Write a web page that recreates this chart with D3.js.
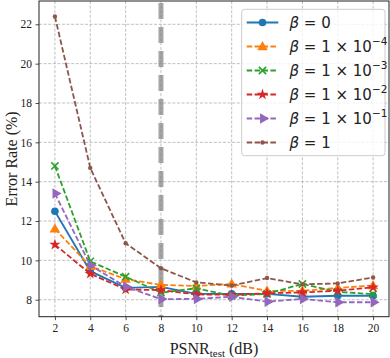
<!DOCTYPE html>
<html>
<head>
<meta charset="utf-8">
<script src="https://cdn.jsdelivr.net/npm/d3@7"></script>
<style>
  html, body { margin: 0; padding: 0; background: #fff; }
  svg { display: block; }
</style>
</head>
<body>
<svg id="chart" width="390" height="358"></svg>
<script>
// ---- data ----
const psnr = [2, 4, 6, 8, 10, 12, 14, 16, 18, 20];
const beta0     = [12.5, 9.45, 8.6, 8.65, 8.3, 8.3, 8.3, 8.15, 8.2, 8.2];
const beta1e4   = [11.6, 9.7, 9.05, 8.75, 8.7, 8.8, 8.45, 8.45, 8.6, 8.72];
const beta1e3   = [14.8, 9.95, 9.17, 8.36, 8.58, 8.2, 8.3, 8.8, 8.4, 8.28];
const beta1e2   = [10.8, 9.32, 8.52, 8.49, 8.27, 8.25, 8.33, 8.37, 8.46, 8.63];
const beta1e1   = [13.4, 9.75, 8.66, 8.03, 8.04, 8.15, 7.9, 8.04, 7.87, 7.87];
const beta1     = [22.4, 14.7, 10.87, 9.6, 8.88, 8.72, 9.1, 8.78, 8.83, 9.13];
const xTicks = [2, 4, 6, 8, 10, 12, 14, 16, 18, 20];
const yTicks = [8, 10, 12, 14, 16, 18, 20, 22];
const vlineX = 8;

const seriesNames = ["0", "1e-4", "1e-3", "1e-2", "1e-1", "1"];
const seriesValues = [beta0, beta1e4, beta1e3, beta1e2, beta1e1, beta1];
const seriesExp = [null, "−4", "−3", "−2", "−1", null];
const seriesBase = ["0", "1 × 10", "1 × 10", "1 × 10", "1 × 10", "1"];

// ---- styles ----
const colors = ["#1f77b4", "#ff7f0e", "#2ca02c", "#d62728", "#9467bd", "#8c564b"];
const dashes = [null, "5.5,2.4", "5.5,2.4", "5.5,2.4", "5.5,2.4", "5.5,2.4"];
const markers = ["circle", "triangle", "x", "star", "tright", "dot"];

const svg = d3.select("#chart");
const W = 390, H = 358;
const m = { left: 39, top: 1, right: 1, bottom: 41.3 };
const pw = W - m.left - m.right, ph = H - m.top - m.bottom;

const x = d3.scaleLinear().domain([1.1, 20.9]).range([m.left, m.left + pw]);
const y = d3.scaleLinear().domain([7.136, 23.185]).range([m.top + ph, m.top]);

const g = svg.append("g");

// grid
g.append("g").selectAll("line").data(xTicks).join("line")
  .attr("x1", d => x(d)).attr("x2", d => x(d))
  .attr("y1", m.top).attr("y2", m.top + ph)
  .attr("stroke", "#b0b0b0").attr("stroke-width", 0.8).attr("stroke-dasharray", "3,1.6");
g.append("g").selectAll("line").data(yTicks).join("line")
  .attr("y1", d => y(d)).attr("y2", d => y(d))
  .attr("x1", m.left).attr("x2", m.left + pw)
  .attr("stroke", "#b0b0b0").attr("stroke-width", 0.8).attr("stroke-dasharray", "3,1.6");

// vertical line
g.append("line")
  .attr("x1", x(vlineX)).attr("x2", x(vlineX))
  .attr("y1", m.top).attr("y2", m.top + ph)
  .attr("stroke", "#808080").attr("stroke-opacity", 0.7)
  .attr("stroke-width", 5).attr("stroke-dasharray", "16,8").attr("stroke-dashoffset", -2);

function drawMarker(sel, type, color, cx, cy, scale) {
  scale = scale || 1;
  if (type === "circle") {
    sel.append("circle").attr("cx", cx).attr("cy", cy).attr("r", 3.8 * scale).attr("fill", color);
  } else if (type === "dot") {
    sel.append("circle").attr("cx", cx).attr("cy", cy).attr("r", 2.2 * scale).attr("fill", color);
  } else if (type === "triangle") {
    sel.append("path").attr("d", d3.symbol(d3.symbolTriangle, 48 * scale * scale)())
      .attr("transform", `translate(${cx},${cy + 0.6})`).attr("fill", color);
  } else if (type === "tright") {
    sel.append("path").attr("d", d3.symbol(d3.symbolTriangle, 48 * scale * scale)())
      .attr("transform", `translate(${cx + 0.6},${cy}) rotate(90)`).attr("fill", color);
  } else if (type === "star") {
    sel.append("path").attr("d", d3.symbol(d3.symbolStar, 40 * scale * scale)())
      .attr("transform", `translate(${cx},${cy})`).attr("fill", color);
  } else if (type === "x") {
    const r = 3.6 * scale;
    sel.append("path").attr("d", `M${cx - r},${cy - r}L${cx + r},${cy + r}M${cx - r},${cy + r}L${cx + r},${cy - r}`)
      .attr("stroke", color).attr("stroke-width", 1.6).attr("fill", "none");
  }
}

// series
const line = d3.line().x((d, i) => x(psnr[i])).y(d => y(d));
seriesValues.forEach((vals, si) => {
  const sg = g.append("g");
  sg.append("path").datum(vals).attr("d", line)
    .attr("fill", "none").attr("stroke", colors[si]).attr("stroke-width", 1.8)
    .attr("stroke-dasharray", dashes[si]);
  vals.forEach((v, i) => drawMarker(sg, markers[si], colors[si], x(psnr[i]), y(v)));
});

// spines
g.append("rect").attr("x", m.left).attr("y", m.top).attr("width", pw).attr("height", ph)
  .attr("fill", "none").attr("stroke", "#222").attr("stroke-width", 1);

// axes
const xAxis = d3.axisBottom(x).tickValues(xTicks).tickSize(3.5).tickPadding(3.5).tickFormat(d3.format("d"));
const yAxis = d3.axisLeft(y).tickValues(yTicks).tickSize(3.5).tickPadding(3.5).tickFormat(d3.format("d"));
const gx = svg.append("g").attr("transform", `translate(0,${m.top + ph})`).call(xAxis);
const gy = svg.append("g").attr("transform", `translate(${m.left},0)`).call(yAxis);
[gx, gy].forEach(a => {
  a.select(".domain").remove();
  a.selectAll("line").attr("stroke", "#222").attr("stroke-width", 0.8);
  a.selectAll("text").attr("font-family", "'Liberation Serif', 'Times New Roman', serif")
    .attr("font-size", 11.5).attr("fill", "#222");
});

// axis labels
const xl = svg.append("text").attr("x", m.left + pw / 2).attr("y", 354)
  .attr("text-anchor", "middle").attr("font-family", "'Liberation Serif', serif")
  .attr("font-size", 16).attr("fill", "#222");
xl.append("tspan").text("PSNR");
xl.append("tspan").attr("font-size", 11).attr("dy", 3).text("test");
xl.append("tspan").attr("dy", -3).text(" (dB)");

svg.append("text").attr("transform", `translate(17,${m.top + ph / 2}) rotate(-90)`)
  .attr("text-anchor", "middle").attr("font-family", "'Liberation Serif', serif")
  .attr("font-size", 16).attr("fill", "#222").text("Error Rate (%)");

// legend
const lg = svg.append("g");
lg.append("rect").attr("x", 241.7).attr("y", 9.3).attr("width", 143.3).attr("height", 146.4)
  .attr("rx", 3).attr("fill", "#fff").attr("fill-opacity", 0.8)
  .attr("stroke", "#cccccc").attr("stroke-width", 1);
seriesNames.forEach((n, i) => {
  const cy = 22.5 + i * 24;
  lg.append("line").attr("x1", 246.7).attr("x2", 278.3).attr("y1", cy).attr("y2", cy)
    .attr("stroke", colors[i]).attr("stroke-width", 1.8).attr("stroke-dasharray", dashes[i]);
  drawMarker(lg, markers[i], colors[i], 262.5, cy);
  const t = lg.append("text").attr("x", 289.5).attr("y", cy + 5.2)
    .attr("font-family", "'DejaVu Sans', sans-serif").attr("font-size", 15).attr("fill", "#222");
  t.append("tspan").attr("font-style", "italic").text("β");
  t.append("tspan").text(" = " + seriesBase[i]);
  if (seriesExp[i]) {
    t.append("tspan").attr("font-size", 10.5).attr("dy", -7).text(seriesExp[i]);
  }
});
</script>
</body>
</html>
